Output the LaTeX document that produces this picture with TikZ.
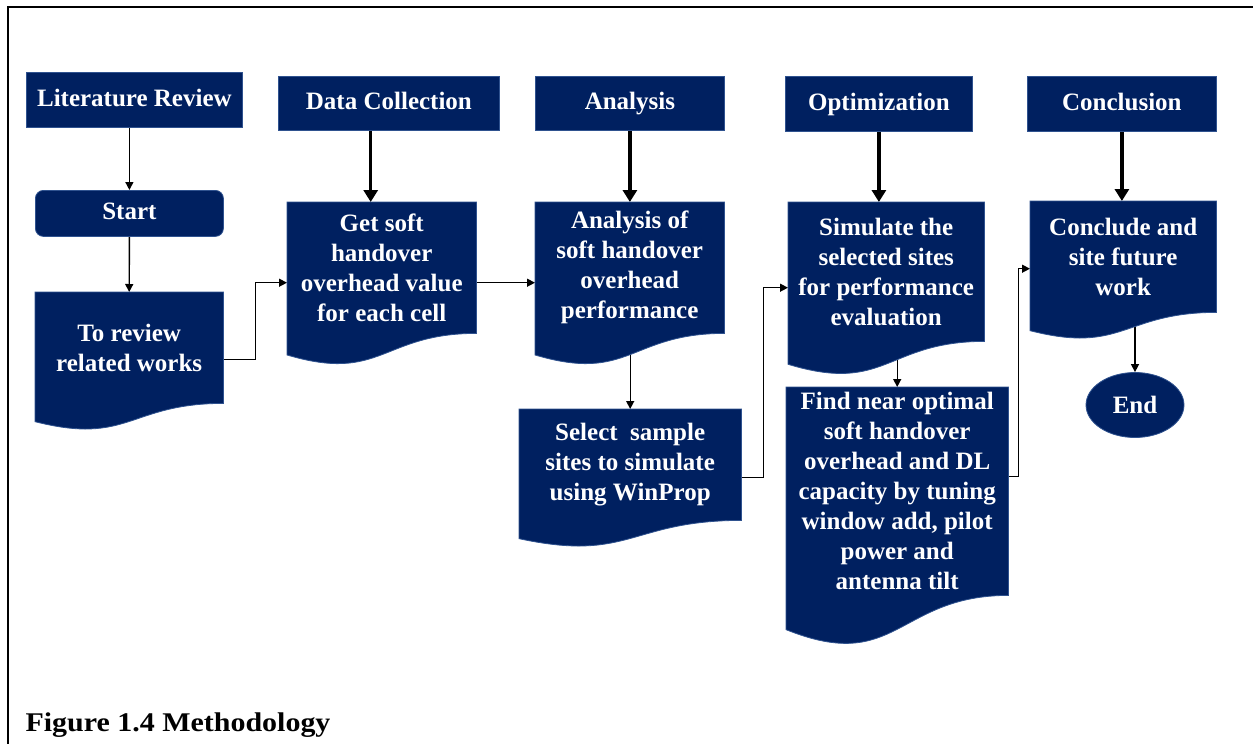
\documentclass[tikz,border=0pt]{standalone}
\usepackage{fontspec}
\setmainfont{Liberation Serif}
\newfontfamily\capfont[FakeStretch=1.11]{Liberation Serif}
\usetikzlibrary{arrows.meta,calc,shapes.geometric}

\definecolor{navy}{RGB}{0,32,96}
\definecolor{navyedge}{RGB}{47,82,143}

\pgfdeclarelayer{links}
\pgfdeclarelayer{shapes}
\pgfsetlayers{links,shapes,main}

\tikzset{
  boxfont/.style={font=\fontsize{25}{30}\selectfont\bfseries, text=white},
  header/.style={boxfont, fill=navy, draw=navyedge, line width=0.8pt,
    anchor=north west, inner sep=0pt, text height=17pt, text depth=4pt},
  doctext/.style={boxfont, anchor=north west, inner sep=0pt, align=center},
  docfill/.style={fill=navy, draw=navyedge, line width=0.8pt},
  thinarrow/.style={draw=black, line width=1.4pt, -{Triangle[length=8pt,width=8pt]}},
  thickarrow/.style={draw=black, line width=3.2pt, -{Triangle[length=12pt,width=14pt]}},
}

% document-shaped box: name, x, y (top left), width, height of the straight part, text
\newcommand\docbox[6]{%
  \node[doctext, minimum width=#4pt, minimum height=#5pt] (#1) at (#2,#3) {#6};
  \begin{pgfonlayer}{shapes}
    \path[docfill] (#1.north west) -- (#1.north east) -- (#1.south east)
      .. controls (#1.south) and ($(#1.south)+(0,0.38*#5)$)
      .. ($(#1.south west)+(0,0.1646*#5)$) -- cycle;
  \end{pgfonlayer}
}

\begin{document}
\begin{tikzpicture}[x=1pt,y=-1pt]
\useasboundingbox (0,0) rectangle (1253,744);

% frame
\draw[line width=2pt] (8,744) -- (8,7) -- (1253,7);

% stage headers
\node[header, minimum width=216pt, minimum height=55pt] (lit)  at (26,72)   {Literature Review};
\node[header, minimum width=221pt, minimum height=54pt] (data) at (278,76)  {Data Collection};
\node[header, minimum width=189pt, minimum height=54pt] (anh)  at (535,76)  {Analysis};
\node[header, minimum width=187pt, minimum height=55pt] (opt)  at (785,76)  {Optimization};
\node[header, minimum width=189pt, minimum height=55pt] (conh) at (1027,76) {Conclusion};

% terminators
\node[header, rounded corners=8pt, minimum width=188pt, minimum height=46pt] (start) at (35,190) {Start};
\node[boxfont, ellipse, fill=navy, draw=navyedge, line width=0.8pt, inner sep=0pt,
      minimum width=98pt, minimum height=65pt] (finish) at (1135,405) {End};

% process steps
\docbox{review}{35}{292}{188}{111}{To review\\related works}
\docbox{get}{287}{202}{189}{131}{Get soft\\handover\\overhead value\\for each cell}
\docbox{anal}{535}{202}{189}{131}{Analysis of\\soft handover\\overhead\\performance}
\docbox{select}{519}{409}{222}{111}{Select\ \ sample\\sites to simulate\\using WinProp}
\docbox{sim}{788}{202}{196}{139}{Simulate the\\selected sites\\for performance\\evaluation}
\docbox{find}{786}{387}{222}{208}{Find near optimal\\soft handover\\overhead and DL\\capacity by tuning\\window add, pilot\\power and\\antenna tilt}
\docbox{concl}{1030}{201}{186}{111}{Conclude and\\site future\\work}

% caption
\node[anchor=base west, font=\capfont\fontsize{27}{30}\selectfont\bfseries] (cap) at (22,731) {Figure 1.4 Methodology};

\coordinate (gettop) at ([xshift=-11pt]get.north);

% connectors
\begin{pgfonlayer}{links}
  \draw[thickarrow] (gettop |- data.south) -- (gettop);
  \draw[thickarrow] (anh.south) -- (anh.south |- anal.north);
  \draw[thickarrow] (opt.south) -- (opt.south |- sim.north);
  \draw[thickarrow] (conh.south) -- (conh.south |- concl.north);

  \draw[thinarrow] (lit.south -| start.north) -- (start.north);
  \draw[thinarrow] (start.south) -- (review.north);
  \draw[thinarrow] ([yshift=-12pt]review.east) -- ++(32,0) |- ([yshift=-15pt]get.west);
  \draw[thinarrow] ([yshift=-15pt]get.east) -- ([yshift=-15pt]anal.west);
  \draw[thinarrow] (anal.south -| select.north) -- (select.north);
  \draw[thinarrow] ([yshift=-13pt]select.east) -- ++(22,0) |- ([yshift=-16pt]sim.west);
  \draw[thinarrow] (sim.south -| find.north) -- (find.north);
  \draw[thinarrow] ([yshift=15pt]find.east) -- ++(10,0) |- ([yshift=-12pt]concl.west);
  \draw[thinarrow] (concl.south -| finish.north) -- (finish.north);
\end{pgfonlayer}
\end{tikzpicture}
\end{document}
